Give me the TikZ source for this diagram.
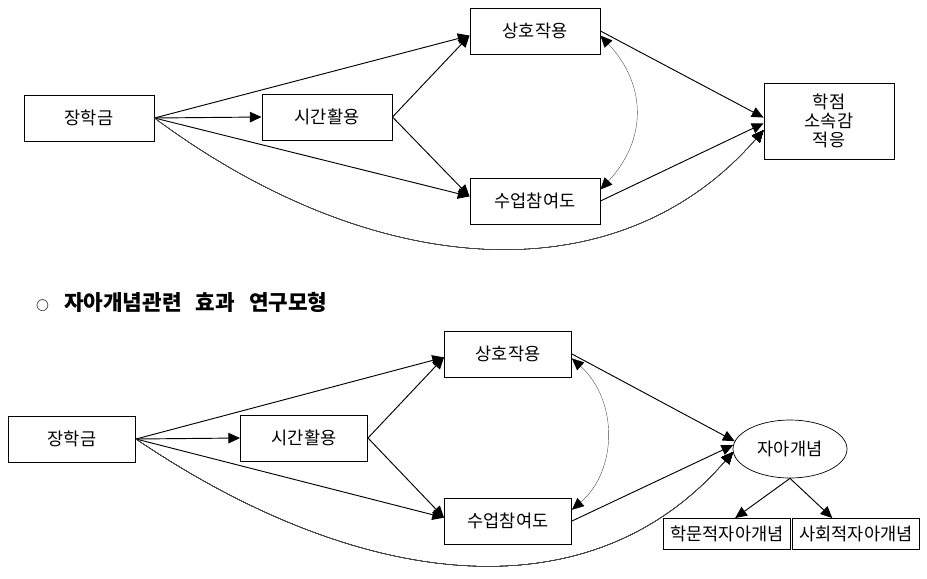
\documentclass[tikz,border=0pt]{standalone}
\usepackage{fontspec}
\setmainfont{Noto Sans CJK KR}
\usetikzlibrary{positioning,shapes.geometric,arrows.meta}
\tikzstyle{diagram} = [x = .03cm, y = -.03cm]
\newcommand{\boxFont}{\fontsize{15pt}{16pt}\selectfont}
\newcommand{\titleFont}{\fontsize{18.2pt}{20pt}\selectfont\bfseries}
\tikzstyle{varBox} = [draw, line width = .8pt, minimum width = 3.9cm, minimum height = 1.38cm, inner sep = 0pt, font = \boxFont]
\tikzstyle{varBoxNarrow} = [varBox, minimum width = 3.81cm]
\tikzstyle{smallBox} = [varBox, minimum width = 3.81cm, minimum height = .93cm]
\tikzstyle{latentStyle} = [draw, ellipse, line width = .6pt, minimum width = 3.42cm, minimum height = 1.74cm, inner sep = 0pt, font = \boxFont]
\tikzstyle{pathLine} = [line width = .8pt, -{Triangle[length = 10pt, width = 9pt]}]
\tikzstyle{curveLine} = [line width = .3pt, black!75, -{Triangle[length = 10pt, width = 9pt, fill = black, color = black]}]
\tikzstyle{corrLine} = [line width = .3pt, black!75, {Triangle[length = 10pt, width = 9pt, color = black]}-{Triangle[length = 10pt, width = 9pt, color = black]}]
\newcommand{\causalPath}[2]{\draw [pathLine] (#1) -- (#2);}

\begin{document}
\begin{tikzpicture}[diagram]
        \useasboundingbox (0,0) rectangle (927,578);

        % upper model
        \node [varBox] (scholarA) at (89,118) {장학금};
        \node [varBox] (timeA) at (327,117) {시간활용};
        \node [varBox] (interactA) at (535,31) {상호작용};
        \node [varBox] (classA) at (535,201) {수업참여도};
        \node [varBox, minimum height = 2.28cm, align = center] (outcome) at (829,121) {학점\\소속감\\적응};

        \foreach \from/\to in {scholarA.east/interactA.184, scholarA.east/timeA.west, scholarA.east/classA.176,
                               timeA.east/interactA.184, timeA.east/classA.176,
                               interactA.east/outcome.177, classA.east/outcome.182}
          \causalPath{\from}{\to}
        \draw [curveLine] (scholarA.east) .. controls (374,281) and (618,298) .. (outcome.188);
        \draw [corrLine] (interactA.356) .. controls (647,85) and (647,140) .. (classA.10);

        % title
        \node [anchor = west, inner sep = 0pt, font = \titleFont] (title) at (36,302)
          {{\fontsize{11pt}{11pt}\selectfont ○}\hspace{.45cm}자아개념관련\hspace{.42cm}효과\hspace{.42cm}연구모형};

        % lower model
        \node [varBoxNarrow] (scholarB) at (72,439) {장학금};
        \node [varBoxNarrow] (timeB) at (304,438) {시간활용};
        \node [varBoxNarrow] (interactB) at (508,354) {상호작용};
        \node [varBoxNarrow] (classB) at (508,521) {수업참여도};
        \node [latentStyle] (selfConcept) at (790,449) {자아개념};
        \node [smallBox] (academic) at (727,534) {학문적자아개념};
        \node [smallBox] (social) at (856,534) {사회적자아개념};

        \foreach \from/\to in {scholarB.east/interactB.183, scholarB.east/timeB.west, scholarB.east/classB.177,
                               timeB.east/interactB.183, timeB.east/classB.177,
                               interactB.east/selfConcept.172, classB.east/selfConcept.176,
                               selfConcept.south/academic.63, selfConcept.south/social.146}
          \causalPath{\from}{\to}
        \draw [curveLine] (scholarB.east) .. controls (356,588) and (588,620) .. (selfConcept.183);
        \draw [corrLine] (interactB.356) .. controls (618,400) and (618,470) .. (classB.10);
      \end{tikzpicture}
\end{document}
